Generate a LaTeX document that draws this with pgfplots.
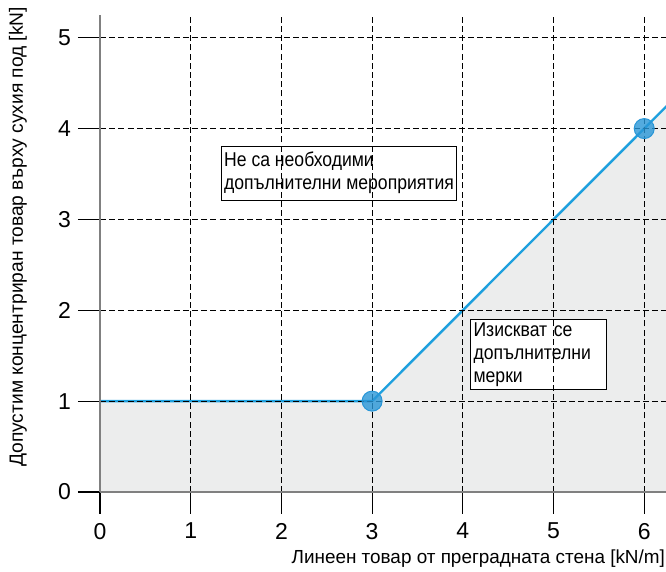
\documentclass[border=0pt]{standalone}
\usepackage{pgfplots}
\pgfplotsset{compat=1.18}
\usepackage{fontspec}
\setmainfont{Liberation Sans}
\newfontfamily\boxfont[FakeStretch=0.88]{Liberation Sans}

\definecolor{lineblue}{RGB}{30,160,222}
\definecolor{markblue}{RGB}{40,150,215}
\definecolor{areagray}{RGB}{236,237,237}

\begin{document}
\begin{tikzpicture}
\begin{axis}[
    scale only axis,
    width=283pt, height=238.5pt,
    xmin=0, xmax=6.24,
    ymin=0, ymax=5.25,
    axis lines=left,
    axis line style={gray, line width=0.65pt, -},
    xtick={0,1,2,3,4,5,6},
    ytick={0,1,2,3,4,5},
    tick align=outside,
    major tick length=11pt,
    tick style={black, line width=0.6pt},
    grid=major,
    grid style={black, dashed, line width=0.45pt, dash pattern=on 3pt off 1.6pt},
    axis on top,
    clip=true,
    /pgf/number format/assume math mode=true,
    tick label style={font=\fontsize{11.5}{13}\selectfont},
    xticklabel style={yshift=-1pt},
    xlabel={Линеен товар от преградната стена [kN/m]},
    ylabel={Допустим концентриран товар върху сухия под [kN]},
    xlabel style={font=\fontsize{9.45}{11}\selectfont,
        at={(axis description cs:1,-0.14)}, anchor=east, xshift=3pt},
    ylabel style={font=\fontsize{9.6}{11}\selectfont,
        at={(axis description cs:-0.145,0.535)}, anchor=center, rotate=0},
]
% grey area below the limit line
\addplot[draw=none, fill=areagray] coordinates {
    (0,0) (0,1) (3,1) (6,4) (6.3,4.3) (6.3,0)
} \closedcycle;

% limit line
\addplot[lineblue, line width=1.2pt, mark=none] coordinates {
    (0,1) (3,1) (6,4) (6.3,4.3)
};

% break points
\addplot[only marks, mark=*, mark size=5pt,
    mark options={draw=markblue, fill=markblue, fill opacity=0.8, line width=0.5pt}]
    coordinates {(3,1) (6,4)};

\node[draw=black, line width=0.5pt, fill=white, anchor=north west,
      inner xsep=1.5pt, inner ysep=3pt, align=left,
      font=\boxfont\fontsize{10}{11.5}\selectfont]
      at (axis cs:1.33,3.81) {Не са необходими\\допълнителни мероприятия};
\node[draw=black, line width=0.5pt, fill=white, anchor=north west,
      inner xsep=1.5pt, inner ysep=1.5pt, align=left, text width=65pt,
      font=\boxfont\fontsize{10}{11.5}\selectfont]
      at (axis cs:4.08,1.905) {Изискват се\\допълнителни\\мерки};
\end{axis}
\pgfresetboundingbox
\path[use as bounding box] ([shift={(-50pt,-40pt)}]current axis.origin) rectangle ++(333pt,286pt);
\end{tikzpicture}
\end{document}
